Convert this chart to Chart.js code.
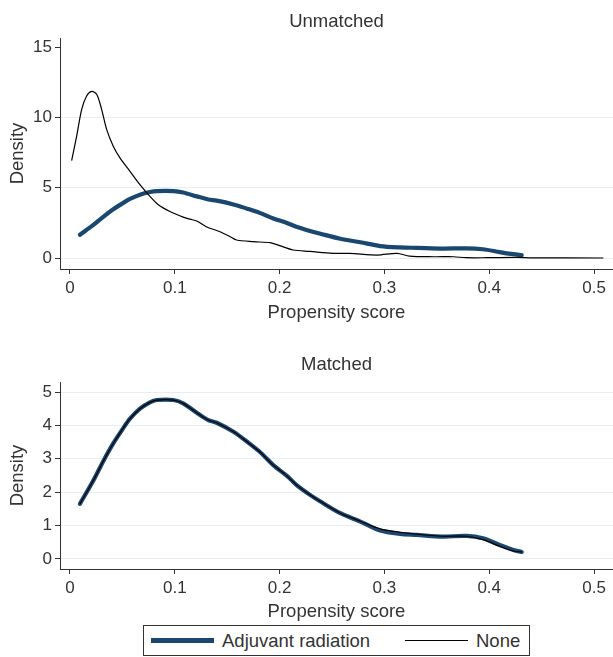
<!DOCTYPE html>
<html>
<head>
<meta charset="utf-8">
<script src="https://cdn.jsdelivr.net/npm/chart.js@4.4.1/dist/chart.umd.min.js"></script>
<style>
  body { margin: 0; background: #fff; width: 613px; height: 657px; position: relative; overflow: hidden;
         font-family: "Liberation Sans", Arial, sans-serif; color: #333; }
  canvas { position: absolute; left: 0; }
  #unmatched { top: 0; }
  #matched { top: 330px; }
  #legend { position: absolute; left: 143px; top: 625px; width: 387px; height: 31px;
            box-sizing: border-box; border: 1px solid #333; }
  #legend .sw { position: absolute; width: 63px; }
  #legend .tx { position: absolute; top: 4px; font-size: 18.5px; line-height: 22px; white-space: nowrap; }
</style>
</head>
<body>
<canvas id="unmatched" width="613" height="324"></canvas>
<canvas id="matched" width="613" height="293"></canvas>
<div id="legend"></div>
<script>
// kernel density of propensity score
const adjX = [0.0095, 0.0223, 0.0318, 0.0413, 0.0509, 0.0573, 0.0668, 0.0763, 0.0827, 0.0986, 0.108, 0.121, 0.132,
              0.140, 0.156, 0.169, 0.181, 0.194, 0.207, 0.216, 0.229, 0.239, 0.258, 0.277, 0.296, 0.315, 0.331,
              0.356, 0.378, 0.394, 0.410, 0.423, 0.431];
const adjY = [1.65, 2.35, 2.93, 3.46, 3.92, 4.20, 4.50, 4.69, 4.76, 4.76, 4.66, 4.38, 4.16,
              4.08, 3.81, 3.51, 3.21, 2.81, 2.49, 2.22, 1.92, 1.72, 1.37, 1.12, 0.85, 0.75, 0.72,
              0.67, 0.69, 0.62, 0.42, 0.27, 0.21];

// untreated, before matching
const noneX = [0.0016, 0.0064, 0.0112, 0.0159, 0.0207, 0.0255, 0.0302, 0.035, 0.0413, 0.0477, 0.0573, 0.0668,
               0.0763, 0.0843, 0.0954, 0.108, 0.1145, 0.121, 0.130, 0.143, 0.153, 0.159, 0.175, 0.191, 0.200,
               0.213, 0.229, 0.251, 0.267, 0.293, 0.312, 0.324, 0.347, 0.366, 0.378, 0.398, 0.426, 0.442, 0.509];
const noneY = [6.93, 8.67, 10.57, 11.52, 11.84, 11.64, 10.57, 9.14, 7.95, 7.12, 6.16, 5.21,
               4.38, 3.79, 3.31, 2.91, 2.76, 2.63, 2.22, 1.87, 1.51, 1.28, 1.16, 1.09, 0.88,
               0.57, 0.47, 0.33, 0.33, 0.21, 0.33, 0.14, 0.09, 0.09, 0.02, 0.02, 0.04, 0.01, 0.0];

// untreated, after matching (nearly on top of the treated curve)
const noneMatchedY = [1.65, 2.35, 2.93, 3.46, 3.92, 4.20, 4.50, 4.69, 4.76, 4.76, 4.66, 4.38, 4.16,
                      4.08, 3.81, 3.51, 3.21, 2.81, 2.49, 2.22, 1.92, 1.72, 1.37, 1.13, 0.90, 0.80, 0.74,
                      0.68, 0.68, 0.58, 0.38, 0.24, 0.21];

const xTicks = [0, 0.1, 0.2, 0.3, 0.4, 0.5];
const xTickLabels = ['0', '0.1', '0.2', '0.3', '0.4', '0.5'];
const yTicksUnmatched = [0, 5, 10, 15];
const yTicksMatched = [0, 1, 2, 3, 4, 5];

const seriesNames = ['Adjuvant radiation', 'None'];
const navy = '#1a476f';
const ink = '#333333';
const gridCol = '#e6eef3';

function pts(xs, ys) {
  return xs.map((x, i) => ({ x: x, y: ys[i] }));
}

function makeChart(id, title, titlePad, yMin, yMax, yTicks, xHeight, adjData, noneData, noGridAt) {
  const ctx = document.getElementById(id).getContext('2d');
  return new Chart(ctx, {
    type: 'line',
    data: {
      datasets: [{
        label: seriesNames[1],
        data: noneData,
        borderColor: '#000',
        borderWidth: 1.2,
        pointRadius: 0,
        tension: 0.3,
        order: 0
      }, {
        label: seriesNames[0],
        data: adjData,
        borderColor: navy,
        borderWidth: 4.2,
        borderCapStyle: 'round',
        borderJoinStyle: 'round',
        pointRadius: 0,
        tension: 0.3,
        order: 1
      }]
    },
    options: {
      responsive: false,
      animation: false,
      layout: { padding: 0 },
      plugins: {
        legend: { display: false },
        tooltip: { enabled: false },
        title: {
          display: true,
          fullSize: false,
          text: title,
          color: ink,
          font: { family: 'Liberation Sans', size: 18.5, weight: 'normal' },
          padding: titlePad
        }
      },
      scales: {
        x: {
          type: 'linear',
          min: -0.0095,
          max: 0.5181,
          afterBuildTicks: s => { s.ticks = xTicks.map(v => ({ value: v })); },
          afterFit: s => { s.height = xHeight; },
          ticks: {
            color: ink,
            font: { family: 'Liberation Sans', size: 17 },
            padding: 4,
            maxRotation: 0,
            autoSkip: false,
            callback: (v, i) => xTickLabels[i]
          },
          grid: { drawOnChartArea: false, tickColor: ink, tickLength: 5 },
          border: { color: ink, width: 1 },
          title: {
            display: true,
            text: 'Propensity score',
            color: ink,
            font: { family: 'Liberation Sans', size: 18.5 },
            padding: { top: 0, bottom: 0 }
          }
        },
        y: {
          type: 'linear',
          min: yMin,
          max: yMax,
          afterBuildTicks: s => { s.ticks = yTicks.map(v => ({ value: v })); },
          afterFit: s => { s.width = 60; },
          ticks: {
            color: ink,
            font: { family: 'Liberation Sans', size: 17 },
            padding: 3,
            autoSkip: false,
            callback: v => String(v)
          },
          grid: {
            color: c => (c.tick && c.tick.value === noGridAt) ? 'rgba(0,0,0,0)' : gridCol,
            tickColor: ink,
            tickLength: 5
          },
          border: { color: ink, width: 1 },
          title: {
            display: true,
            text: 'Density',
            color: ink,
            font: { family: 'Liberation Sans', size: 18.5 },
            padding: { top: 6.4, bottom: 0 }
          }
        }
      }
    }
  });
}

const topChart = makeChart('unmatched', 'Unmatched', { top: 10.9, bottom: 4.9 },
  -0.782, 15.64, yTicksUnmatched, 55, pts(adjX, adjY), pts(noneX, noneY), 15);
const bottomChart = makeChart('matched', 'Matched', { top: 23.9, bottom: 5.9 },
  -0.30, 5.30, yTicksMatched, 54, pts(adjX, adjY), pts(adjX, noneMatchedY), null);

// shared legend under the lower panel, built from the chart's datasets
const legend = document.getElementById('legend');
const items = [
  { ds: bottomChart.data.datasets[1], sw: 7, tx: 78 },
  { ds: bottomChart.data.datasets[0], sw: 261, tx: 332 }
];
items.forEach(it => {
  const sw = document.createElement('div');
  sw.className = 'sw';
  sw.style.left = it.sw + 'px';
  sw.style.height = it.ds.borderWidth + 'px';
  sw.style.top = (14.5 - it.ds.borderWidth / 2) + 'px';
  sw.style.background = it.ds.borderColor;
  legend.appendChild(sw);
  const tx = document.createElement('div');
  tx.className = 'tx';
  tx.style.left = it.tx + 'px';
  tx.textContent = it.ds.label;
  legend.appendChild(tx);
});
</script>
</body>
</html>
